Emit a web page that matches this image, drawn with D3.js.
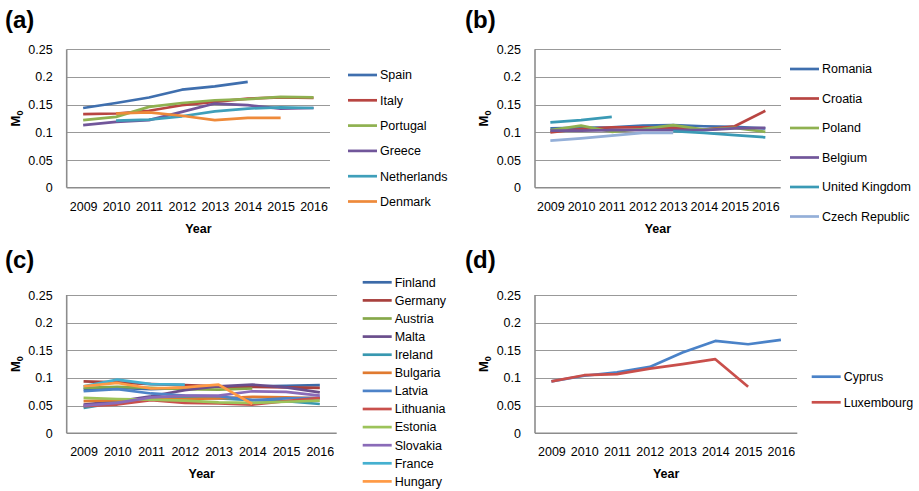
<!DOCTYPE html>
<html lang="en">
<head>
  <meta charset="UTF-8">
  <title>M0 by country</title>
  <style>
    body { margin: 0; background: #fff; }
    svg text { font-family: "Liberation Sans", Arial, sans-serif; fill: #000; }
    .tick text { font-size: 12.5px; }
    .grid { stroke: #999; stroke-width: 1; shape-rendering: crispEdges; }
    .axisline { stroke: #8c8c8c; stroke-width: 1.6; }
    .series { fill: none; stroke-width: 2.7; stroke-linejoin: round; }
  </style>
</head>
<body>
<script src="https://cdn.jsdelivr.net/npm/d3@7"></script>
<script>
  var years = ["2009", "2010", "2011", "2012", "2013", "2014", "2015", "2016"];
  var yTicks = [0, 0.05, 0.1, 0.15, 0.2, 0.25];
  var yTickLabels = ["0", "0.05", "0.1", "0.15", "0.2", "0.25"];

  // (a)
  var namesA = ["Spain", "Italy", "Portugal", "Greece", "Netherlands", "Denmark"];
  var valuesA = [
    [0.144, 0.153, 0.163, 0.177, 0.183, 0.191, null, null],
    [0.133, 0.134, 0.139, 0.149, 0.155, 0.161, 0.163, 0.162],
    [0.122, 0.128, 0.146, 0.153, 0.158, 0.160, 0.164, 0.163],
    [0.113, 0.119, 0.122, 0.137, 0.152, 0.149, 0.143, 0.144],
    [null, 0.121, 0.123, 0.129, 0.138, 0.143, 0.145, 0.144],
    [null, 0.134, 0.136, 0.130, 0.122, 0.126, 0.126, null]
  ];
  var colorsA = ["#3f6fae", "#b84542", "#8fb150", "#71569a", "#3f9fba", "#ee8a3a"];

  // (b)
  var namesB = ["Romania", "Croatia", "Poland", "Belgium", "United Kingdom", "Czech Republic"];
  var valuesB = [
    [0.107, 0.108, 0.109, 0.112, 0.113, 0.111, 0.110, 0.107],
    [0.100, 0.106, 0.109, 0.109, 0.108, 0.105, 0.111, 0.139],
    [0.104, 0.112, 0.101, 0.106, 0.113, 0.105, 0.108, 0.101],
    [0.103, 0.103, 0.104, 0.104, 0.104, 0.104, 0.107, 0.108],
    [0.118, 0.122, 0.128, null, 0.102, 0.099, 0.095, 0.091],
    [0.085, 0.089, 0.094, 0.099, 0.099, null, null, null]
  ];
  var colorsB = ["#3f6fae", "#b84542", "#8fb150", "#71569a", "#3a9ab5", "#94afd8"];

  // (c)
  var namesC = ["Finland", "Germany", "Austria", "Malta", "Ireland", "Bulgaria",
                "Latvia", "Lithuania", "Estonia", "Slovakia", "France", "Hungary"];
  var valuesC = [
    [0.080, 0.082, 0.080, 0.082, 0.085, 0.085, 0.086, 0.087],
    [0.094, 0.092, 0.089, 0.087, 0.085, 0.084, 0.083, 0.082],
    [0.082, 0.084, 0.082, 0.080, 0.079, 0.081, null, null],
    [0.052, 0.058, 0.067, 0.078, 0.085, 0.088, 0.083, 0.074],
    [0.046, 0.056, 0.062, 0.066, 0.063, 0.060, 0.058, 0.053],
    [0.058, 0.060, 0.062, 0.062, 0.063, 0.066, 0.065, 0.063],
    [0.076, 0.080, 0.072, 0.068, 0.067, 0.060, 0.063, 0.064],
    [0.049, 0.052, 0.060, 0.055, 0.054, 0.052, 0.058, 0.064],
    [0.064, 0.062, 0.061, 0.059, 0.056, 0.055, 0.057, 0.059],
    [0.050, 0.055, 0.065, 0.068, 0.068, 0.076, 0.075, 0.068],
    [0.085, 0.097, 0.089, 0.088, null, null, null, null],
    [0.085, 0.091, 0.081, 0.083, 0.088, 0.053, null, null]
  ];
  var colorsC = ["#3c6aa8", "#a8403d", "#86a84a", "#6a4e8c", "#3898b0", "#e07a30",
                 "#4d83c8", "#c9504c", "#9cc35a", "#8a6bb8", "#45b0d0", "#ff9a45"];

  // (d)
  var namesD = ["Cyprus", "Luxembourg"];
  var valuesD = [
    [0.094, 0.104, 0.110, 0.120, 0.146, 0.167, 0.161, 0.169],
    [0.094, 0.105, 0.107, 0.117, 0.125, 0.134, 0.084, null]
  ];
  var colorsD = ["#4a82c8", "#c94f4b"];

  var svg = d3.select("body").append("svg")
    .attr("width", 919)
    .attr("height", 491);

  function panel(p) {
    var g = svg.append("g");

    var x = d3.scalePoint().domain(years).range([p.left, p.right]).padding(0.5);
    var y = d3.scaleLinear().domain([0, 0.25]).range([p.bottom, p.top]);

    // gridlines
    g.selectAll(".grid")
      .data(yTicks.slice(1))
      .enter().append("line")
      .attr("class", "grid")
      .attr("x1", p.left).attr("x2", p.right)
      .attr("y1", function(d) { return Math.round(y(d)) + 0.5; })
      .attr("y2", function(d) { return Math.round(y(d)) + 0.5; });

    // axis lines
    g.append("line").attr("class", "axisline")
      .attr("x1", p.left).attr("x2", p.right)
      .attr("y1", y(0)).attr("y2", y(0));
    g.append("line").attr("class", "axisline")
      .attr("x1", p.left).attr("x2", p.left)
      .attr("y1", y(0.25)).attr("y2", y(0));

    var yAxis = g.append("g")
      .attr("transform", "translate(" + p.left + ",0)")
      .call(d3.axisLeft(y).tickValues(yTicks).tickSize(0).tickPadding(14)
        .tickFormat(function(d, i) { return yTickLabels[i]; }));
    yAxis.select(".domain").remove();

    var xAxis = g.append("g")
      .attr("transform", "translate(0," + p.bottom + ")")
      .call(d3.axisBottom(x).tickSize(0).tickPadding(14));
    xAxis.select(".domain").remove();
    g.selectAll(".tick text").attr("font-family", null).attr("font-size", null);

    // axis titles
    g.append("text")
      .attr("x", (p.left + p.right) / 2)
      .attr("y", p.bottom + 45)
      .attr("text-anchor", "middle")
      .style("font-weight", "bold").style("font-size", "12.5px")
      .text("Year");

    var mt = g.append("text")
      .attr("transform", "translate(" + (p.left - 47) + "," + ((p.top + p.bottom) / 2) + ") rotate(-90)")
      .attr("text-anchor", "middle")
      .style("font-weight", "bold").style("font-size", "13px");
    mt.append("tspan").text("M");
    mt.append("tspan").attr("dy", 3).style("font-size", "9px").text("0");

    // panel letter
    g.append("text")
      .attr("x", p.lx).attr("y", p.ly)
      .style("font-weight", "bold").style("font-size", "24px")
      .text(p.letter);

    // series
    var line = d3.line()
      .defined(function(d) { return d != null; })
      .x(function(d, i) { return x(years[i]); })
      .y(function(d) { return y(d); });

    g.selectAll(".series")
      .data(p.values)
      .enter().append("path")
      .attr("class", "series")
      .attr("stroke", function(d, i) { return p.colors[i]; })
      .attr("d", line);

    // legend
    var leg = g.selectAll(".leg")
      .data(p.names)
      .enter().append("g")
      .attr("transform", function(d, i) { return "translate(" + p.legX + "," + (p.legY + i * p.legStep) + ")"; });
    leg.append("line")
      .attr("x1", 0).attr("x2", 29)
      .attr("stroke", function(d, i) { return p.colors[i]; })
      .attr("stroke-width", 2.7);
    leg.append("text")
      .attr("x", 32).attr("dy", "0.35em")
      .style("font-size", "12.5px")
      .text(function(d) { return d; });
  }

  panel({ letter: "(a)", lx: 5, ly: 28, left: 66.7, right: 330, top: 49.3, bottom: 187.7,
          names: namesA, values: valuesA, colors: colorsA, legX: 348, legY: 75, legStep: 25.3 });
  panel({ letter: "(b)", lx: 465, ly: 28, left: 535, right: 780.7, top: 49.3, bottom: 187.7,
          names: namesB, values: valuesB, colors: colorsB, legX: 790, legY: 69, legStep: 29.5 });
  panel({ letter: "(c)", lx: 5, ly: 268, left: 66.7, right: 336.7, top: 295, bottom: 433.3,
          names: namesC, values: valuesC, colors: colorsC, legX: 362.7, legY: 282.3, legStep: 18.1 });
  panel({ letter: "(d)", lx: 465, ly: 268, left: 535, right: 797.3, top: 295, bottom: 433.3,
          names: namesD, values: valuesD, colors: colorsD, legX: 811.7, legY: 376.7, legStep: 25.6 });
</script>
</body>
</html>
